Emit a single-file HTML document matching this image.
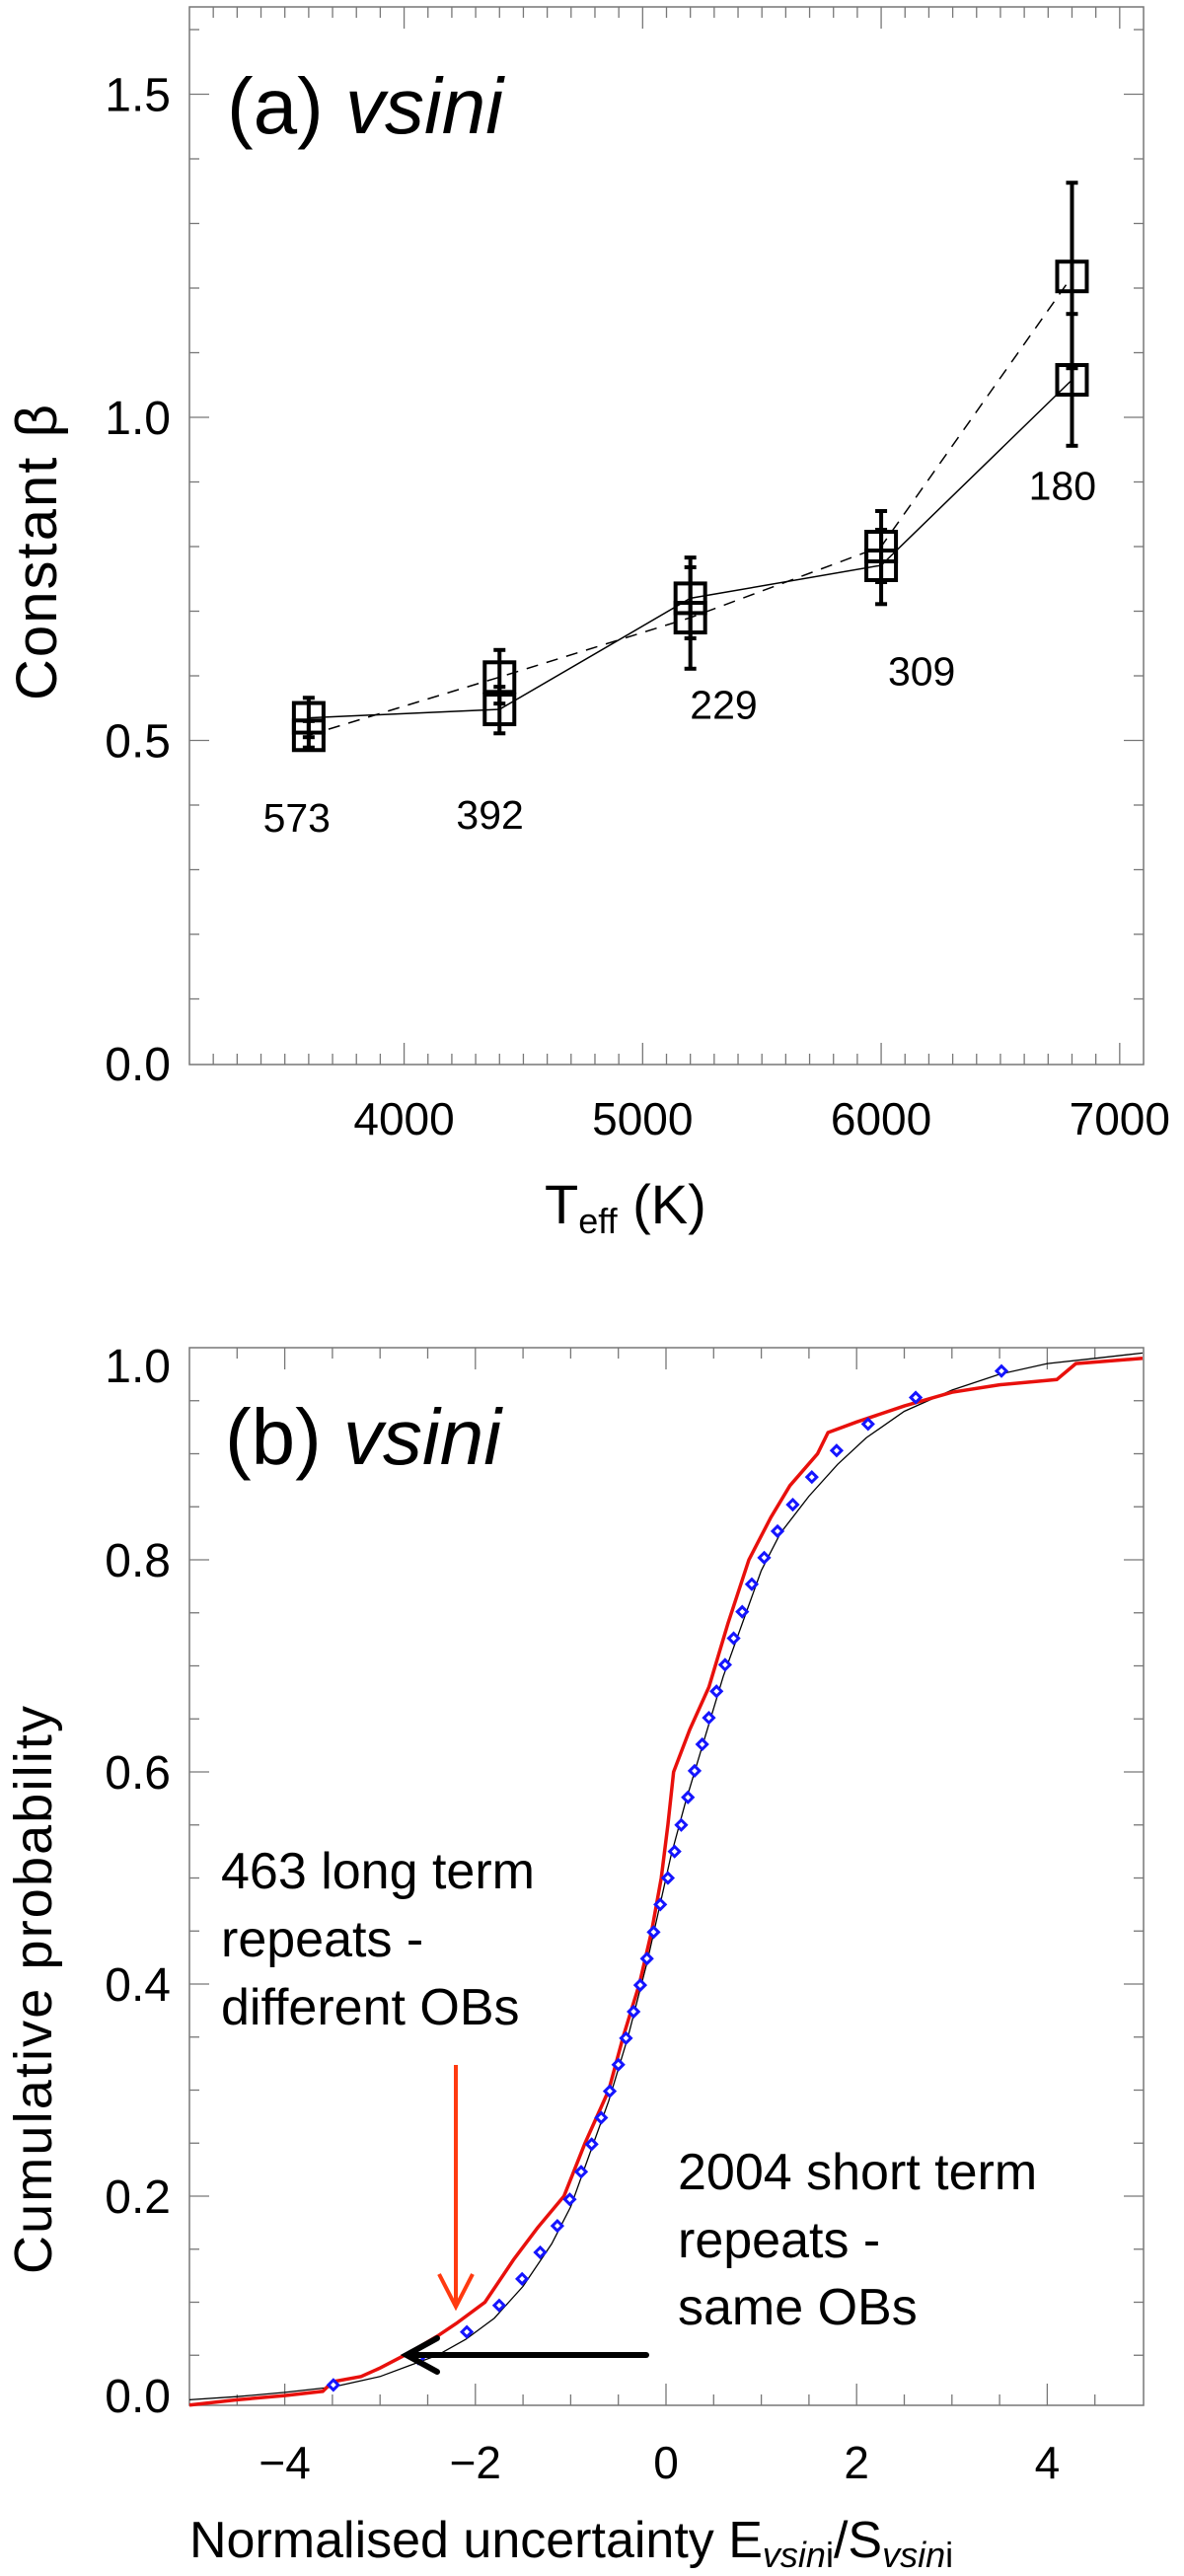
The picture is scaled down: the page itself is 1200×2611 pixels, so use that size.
<!DOCTYPE html>
<html><head><meta charset="utf-8"><style>
html,body{margin:0;padding:0;background:#fff}
svg{display:block}
text{font-family:"Liberation Sans",sans-serif;fill:#000}
</style></head><body>
<svg id="fig" width="1200" height="2611" viewBox="0 0 1200 2611" xmlns="http://www.w3.org/2000/svg">
<g id="pa"></g>
<g id="pb"></g>
</svg>
<script>
// ---- Panel a data ----
const teffValues = [3600, 4400, 5200, 6000, 6800];
const solidBeta = [0.535, 0.548, 0.72, 0.771, 1.058];
const solidLo = [0.505, 0.511, 0.658, 0.711, 0.956];
const solidHi = [0.566, 0.583, 0.768, 0.826, 1.16];
const dashedBeta = [0.508, 0.598, 0.69, 0.80, 1.218];
const dashedLo = [0.489, 0.557, 0.611, 0.745, 1.076];
const dashedHi = [0.53, 0.64, 0.783, 0.855, 1.363];
const countLabels = ["573", "392", "229", "309", "180"];
const countLabelTeff = [3550, 4360, 5340, 6170, 6760];
const countLabelBeta = [0.38, 0.385, 0.555, 0.607, 0.894];
const aXTicks = [4000, 5000, 6000, 7000];
const aYTicks = [0.0, 0.5, 1.0, 1.5];

// ---- Panel b data ----
const redX = [-5,-4.5,-4,-3.6,-3.5,-3.2,-3,-2.7,-2.4,-2.2,-1.9,-1.6,-1.35,-1.07,-0.85,-0.6,-0.45,-0.28,-0.15,-0.05,0.02,0.08,0.25,0.45,0.65,0.87,1.1,1.3,1.59,1.7,2.0,2.5,3,3.5,4.1,4.3,5];
const redP = [0.003,0.008,0.012,0.016,0.025,0.03,0.038,0.052,0.068,0.08,0.10,0.14,0.17,0.20,0.25,0.30,0.35,0.40,0.45,0.50,0.55,0.60,0.64,0.68,0.74,0.80,0.84,0.87,0.90,0.92,0.93,0.945,0.958,0.965,0.97,0.985,0.99];
const blackX = [-5,-4.5,-4,-3.5,-3,-2.7,-2.4,-2.1,-1.8,-1.5,-1.2,-1,-0.8,-0.6,-0.4,-0.2,-0.05,0.05,0.2,0.4,0.6,0.8,1.0,1.2,1.5,1.8,2.1,2.5,3,3.5,4,4.5,5];
const blackP = [0.008,0.011,0.015,0.02,0.03,0.04,0.05,0.065,0.085,0.115,0.155,0.19,0.24,0.29,0.35,0.42,0.48,0.52,0.57,0.63,0.69,0.74,0.79,0.825,0.86,0.89,0.915,0.94,0.96,0.975,0.985,0.99,0.995];
const blueX = [-3.49,-2.6,-2.09,-1.75,-1.51,-1.32,-1.14,-1.01,-0.89,-0.78,-0.68,-0.59,-0.50,-0.42,-0.34,-0.27,-0.20,-0.13,-0.06,0.02,0.09,0.16,0.23,0.30,0.38,0.45,0.53,0.62,0.71,0.80,0.90,1.03,1.17,1.33,1.53,1.79,2.12,2.62,3.52];
const blueP = [0.022,0.047,0.072,0.097,0.122,0.147,0.172,0.197,0.223,0.249,0.274,0.299,0.324,0.349,0.374,0.399,0.424,0.449,0.475,0.500,0.525,0.550,0.576,0.601,0.626,0.651,0.676,0.701,0.726,0.751,0.777,0.802,0.827,0.852,0.878,0.903,0.928,0.953,0.978];
const bXTicks = [-4, -2, 0, 2, 4];
const bXTickLabels = ["\u22124", "\u22122", "0", "2", "4"];
const bYTicks = [0.0, 0.2, 0.4, 0.6, 0.8, 1.0];
const bYTickLabels = ["0.0", "0.2", "0.4", "0.6", "0.8", "1.0"];

const NS = "http://www.w3.org/2000/svg";
function mk(parent, tag, attrs, txt) {
  const e = document.createElementNS(NS, tag);
  for (const k in attrs) e.setAttribute(k, attrs[k]);
  if (txt !== undefined) e.textContent = txt;
  parent.appendChild(e);
  return e;
}

// ===== Panel a =====
const pa = document.getElementById('pa');
const aL = 192, aR = 1159, aT = 7, aB = 1079;
const ax = t => aL + (t - 3100) * (aR - aL) / 4000;
const ay = b => 1078 - b * 655;
let fr = mk(pa, 'rect', {x: aL, y: aT, width: aR - aL, height: aB - aT, fill: 'none', stroke: '#777', 'stroke-width': 1.5});


for (let t = 3200; t <= 7000; t += 100) {
  const maj = t % 1000 === 0, len = maj ? 22 : 11;
  mk(pa, 'line', {x1: ax(t), x2: ax(t), y1: aB, y2: aB - len, stroke: '#777', 'stroke-width': 1.3});
  mk(pa, 'line', {x1: ax(t), x2: ax(t), y1: aT, y2: aT + len, stroke: '#777', 'stroke-width': 1.3});
}
for (let i = 1; i <= 16; i++) {
  const b = i / 10, maj = i % 5 === 0, len = maj ? 20 : 10;
  mk(pa, 'line', {x1: aL, x2: aL + len, y1: ay(b), y2: ay(b), stroke: '#777', 'stroke-width': 1.3});
  mk(pa, 'line', {x1: aR, x2: aR - len, y1: ay(b), y2: ay(b), stroke: '#777', 'stroke-width': 1.3});
}
aXTicks.forEach(t => {
  const e = mk(pa, 'text', {x: ax(t), y: 1150, 'font-size': 46, 'text-anchor': 'middle'}, String(t));
  
  
});
aYTicks.forEach(b => {
  const e = mk(pa, 'text', {x: 173, y: ay(b) + 17, 'font-size': 48, 'text-anchor': 'end'}, b.toFixed(1));
  
  
});
let t1 = mk(pa, 'text', {x: 230, y: 135, 'font-size': 80});
t1.innerHTML = '(a) <tspan font-style="italic">vsini</tspan>';


let xl = mk(pa, 'text', {x: 552, y: 1240, 'font-size': 56});
xl.innerHTML = 'T<tspan font-size="36" dy="10">eff</tspan><tspan dy="-10"> (K)</tspan>';


let yl = mk(pa, 'text', {x: 0, y: 0, 'font-size': 58, 'text-anchor': 'middle', transform: 'translate(57,560) rotate(-90)', textLength: 300}, 'Constant \u03b2');



function series(vals, lo, hi, dash, name) {
  const g = mk(pa, 'g', {});
  
  
  const pts = teffValues.map((t, i) => ax(t) + ',' + ay(vals[i])).join(' ');
  const pl = mk(g, 'polyline', {points: pts, fill: 'none', stroke: '#000', 'stroke-width': 1.5, 'stroke-dasharray': dash ? '12 9' : 'none'});
  
  
  teffValues.forEach((t, i) => {
    const x = ax(t);
    const eb = mk(g, 'line', {x1: x, x2: x, y1: ay(lo[i]), y2: ay(hi[i]), stroke: '#000', 'stroke-width': 4});
    
    
    [lo[i], hi[i]].forEach(v => mk(g, 'line', {x1: x - 6, x2: x + 6, y1: ay(v), y2: ay(v), stroke: '#000', 'stroke-width': 4}));
    const sq = mk(g, 'rect', {x: x - 15, y: ay(vals[i]) - 15, width: 30, height: 30, fill: 'none', stroke: '#000', 'stroke-width': 4});
    
    
  });
}
series(solidBeta, solidLo, solidHi, false, 'solid-series');
series(dashedBeta, dashedLo, dashedHi, true, 'dashed-series');
countLabels.forEach((s, i) => {
  const e = mk(pa, 'text', {x: ax(countLabelTeff[i]), y: ay(countLabelBeta[i]) + 14, 'font-size': 41, 'text-anchor': 'middle'}, s);
  
  
});

// ===== Panel b =====
const pb = document.getElementById('pb');
const bL = 192, bR = 1159, bT = 1366, bB = 2438;
const bx = v => 675 + v * 96.6;
const by = p => 2441 - p * 1075;
let fb = mk(pb, 'rect', {x: bL, y: bT, width: bR - bL, height: bB - bT, fill: 'none', stroke: '#777', 'stroke-width': 1.5});


for (let i = -9; i <= 9; i++) {
  const v = i / 2, maj = i % 4 === 0, len = maj ? 22 : 11;
  mk(pb, 'line', {x1: bx(v), x2: bx(v), y1: bB, y2: bB - len, stroke: '#777', 'stroke-width': 1.3});
  mk(pb, 'line', {x1: bx(v), x2: bx(v), y1: bT, y2: bT + len, stroke: '#777', 'stroke-width': 1.3});
}
for (let i = 1; i < 20; i++) {
  const p = i / 20, maj = i % 4 === 0, len = maj ? 20 : 10;
  mk(pb, 'line', {x1: bL, x2: bL + len, y1: by(p), y2: by(p), stroke: '#777', 'stroke-width': 1.3});
  mk(pb, 'line', {x1: bR, x2: bR - len, y1: by(p), y2: by(p), stroke: '#777', 'stroke-width': 1.3});
}
bXTicks.forEach((v, i) => {
  const e = mk(pb, 'text', {x: bx(v), y: 2512, 'font-size': 46, 'text-anchor': 'middle'}, bXTickLabels[i]);
  
  
});
bYTicks.forEach((p, i) => {
  let yy = by(p) + 17;
  if (p === 1.0) yy = 1401;
  if (p === 0.0) yy = 2445;
  const e = mk(pb, 'text', {x: 173, y: yy, 'font-size': 48, 'text-anchor': 'end'}, bYTickLabels[i]);
  
  
});
let t2 = mk(pb, 'text', {x: 228, y: 1484, 'font-size': 80});
t2.innerHTML = '(b) <tspan font-style="italic">vsini</tspan>';


let xl2 = mk(pb, 'text', {x: 192, y: 2592, 'font-size': 52});
xl2.innerHTML = 'Normalised uncertainty E<tspan font-size="36" font-style="italic" dy="10">vsin</tspan><tspan font-size="36" dy="0">i</tspan><tspan dy="-10">/S</tspan><tspan font-size="36" font-style="italic" dy="10">vsin</tspan><tspan font-size="36">i</tspan>';


let yl2 = mk(pb, 'text', {x: 0, y: 0, 'font-size': 54, 'text-anchor': 'middle', transform: 'translate(52,2017) rotate(-90)', textLength: 576}, 'Cumulative probability');



function stepPath(xs, ps) {
  return xs.map((v, i) => (i ? 'L' : 'M') + bx(v).toFixed(1) + ',' + by(ps[i]).toFixed(1)).join(' ');
}
let bl = mk(pb, 'path', {d: stepPath(blackX, blackP), fill: 'none', stroke: '#000', 'stroke-width': 1.3});


let rl = mk(pb, 'path', {d: stepPath(redX, redP), fill: 'none', stroke: '#e8100c', 'stroke-width': 3.5});


blueX.forEach((v, i) => {
  const x = bx(v), y = by(blueP[i]);
  const d = mk(pb, 'path', {d: `M${x},${y-5} L${x+5},${y} L${x},${y+5} L${x-5},${y} Z`, fill: '#fff', stroke: '#1515ff', 'stroke-width': 3});
  
  
});
// annotations
let a1 = mk(pb, 'text', {'font-size': 52});
a1.innerHTML = '<tspan x="224" y="1914">463 long term</tspan><tspan x="224" y="1983">repeats -</tspan><tspan x="224" y="2052">different OBs</tspan>';


let a2 = mk(pb, 'text', {'font-size': 52});
a2.innerHTML = '<tspan x="687" y="2219">2004 short term</tspan><tspan x="687" y="2288">repeats -</tspan><tspan x="687" y="2356">same OBs</tspan>';


let ra = mk(pb, 'g', {stroke: '#ff3a10', 'stroke-width': 4, fill: 'none'});


mk(ra, 'line', {x1: 462, y1: 2093, x2: 462, y2: 2338});
mk(ra, 'polyline', {points: '445,2305 462,2338 479,2305'});
let ka = mk(pb, 'g', {stroke: '#000', 'stroke-width': 6, fill: 'none', 'stroke-linecap': 'round'});


mk(ka, 'line', {x1: 655, y1: 2387, x2: 414, y2: 2387});
mk(ka, 'polyline', {points: '443,2370 412,2387 443,2404'});
</script>
</body></html>
